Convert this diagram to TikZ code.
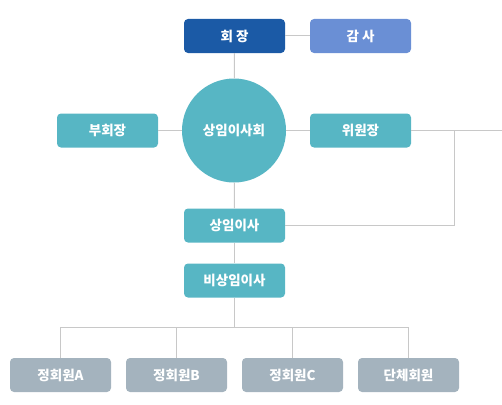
\documentclass[tikz,border=0pt]{standalone}
\usepackage{fontspec}
\setmainfont{Noto Sans CJK KR}
\definecolor{chairblue}{HTML}{1B5AA6}
\definecolor{auditblue}{HTML}{6A8FD5}
\definecolor{boardteal}{HTML}{57B6C4}
\definecolor{membergray}{HTML}{A4B3BE}
\definecolor{linegray}{HTML}{C8C8C8}
\begin{document}
\begin{tikzpicture}[
  x=1pt, y=-1pt,
  every node/.style={text=white, font=\bfseries\fontsize{13.5}{15}\selectfont},
  posbox/.style={rectangle, rounded corners=4pt, minimum width=101pt, minimum height=34pt, inner sep=0pt},
  link/.style={draw=linegray, line width=1pt}
]
  \useasboundingbox (0,0) rectangle (502,404);

  % Cabeza: presidente y auditor
  \node[posbox, fill=chairblue] (hoejang) at (234.5,36) {회 장};
  \node[posbox, fill=auditblue] (gamsa) at (360.5,36) {감 사};

  % Consejo en el centro
  \node[circle, fill=boardteal, minimum size=104pt, inner sep=0pt] (board) at (234,130.5) {상임이사회};
  \node[posbox, fill=boardteal] (buhoe) at (107.5,130.5) {부회장};
  \node[posbox, fill=boardteal] (wiwon) at (360.5,130.5) {위원장};

  % Directores
  \node[posbox, fill=boardteal] (sangim) at (234.5,225.5) {상임이사};
  \node[posbox, fill=boardteal] (bisangim) at (234.5,280.5) {비상임이사};

  % Miembros
  \node[posbox, fill=membergray] (memA) at (60.5,375) {정회원A};
  \node[posbox, fill=membergray] (memB) at (176.5,375) {정회원B};
  \node[posbox, fill=membergray] (memC) at (292.5,375) {정회원C};
  \node[posbox, fill=membergray] (group) at (408.5,375) {단체회원};

  % Puntos libres de las líneas
  \coordinate (edge) at (502,130.5);
  \coordinate (jtop) at (454,130.5);
  \coordinate (jbot) at (454,225.5);
  \coordinate (bus) at (234.5,327);

  % Conexiones
  \draw[link] (hoejang) -- (gamsa);
  \draw[link] (hoejang) -- (board);
  \draw[link] (buhoe) -- (board);
  \draw[link] (board) -- (wiwon);
  \draw[link] (wiwon) -- (edge);
  \draw[link] (sangim) -- (jbot) -- (jtop);
  \draw[link] (board) -- (sangim);
  \draw[link] (sangim) -- (bisangim);
  \draw[link] (bisangim) -- (bus);
  \foreach \m in {memA,memB,memC,group}
    \draw[link] (bus) -| (\m);

\end{tikzpicture}
\end{document}
